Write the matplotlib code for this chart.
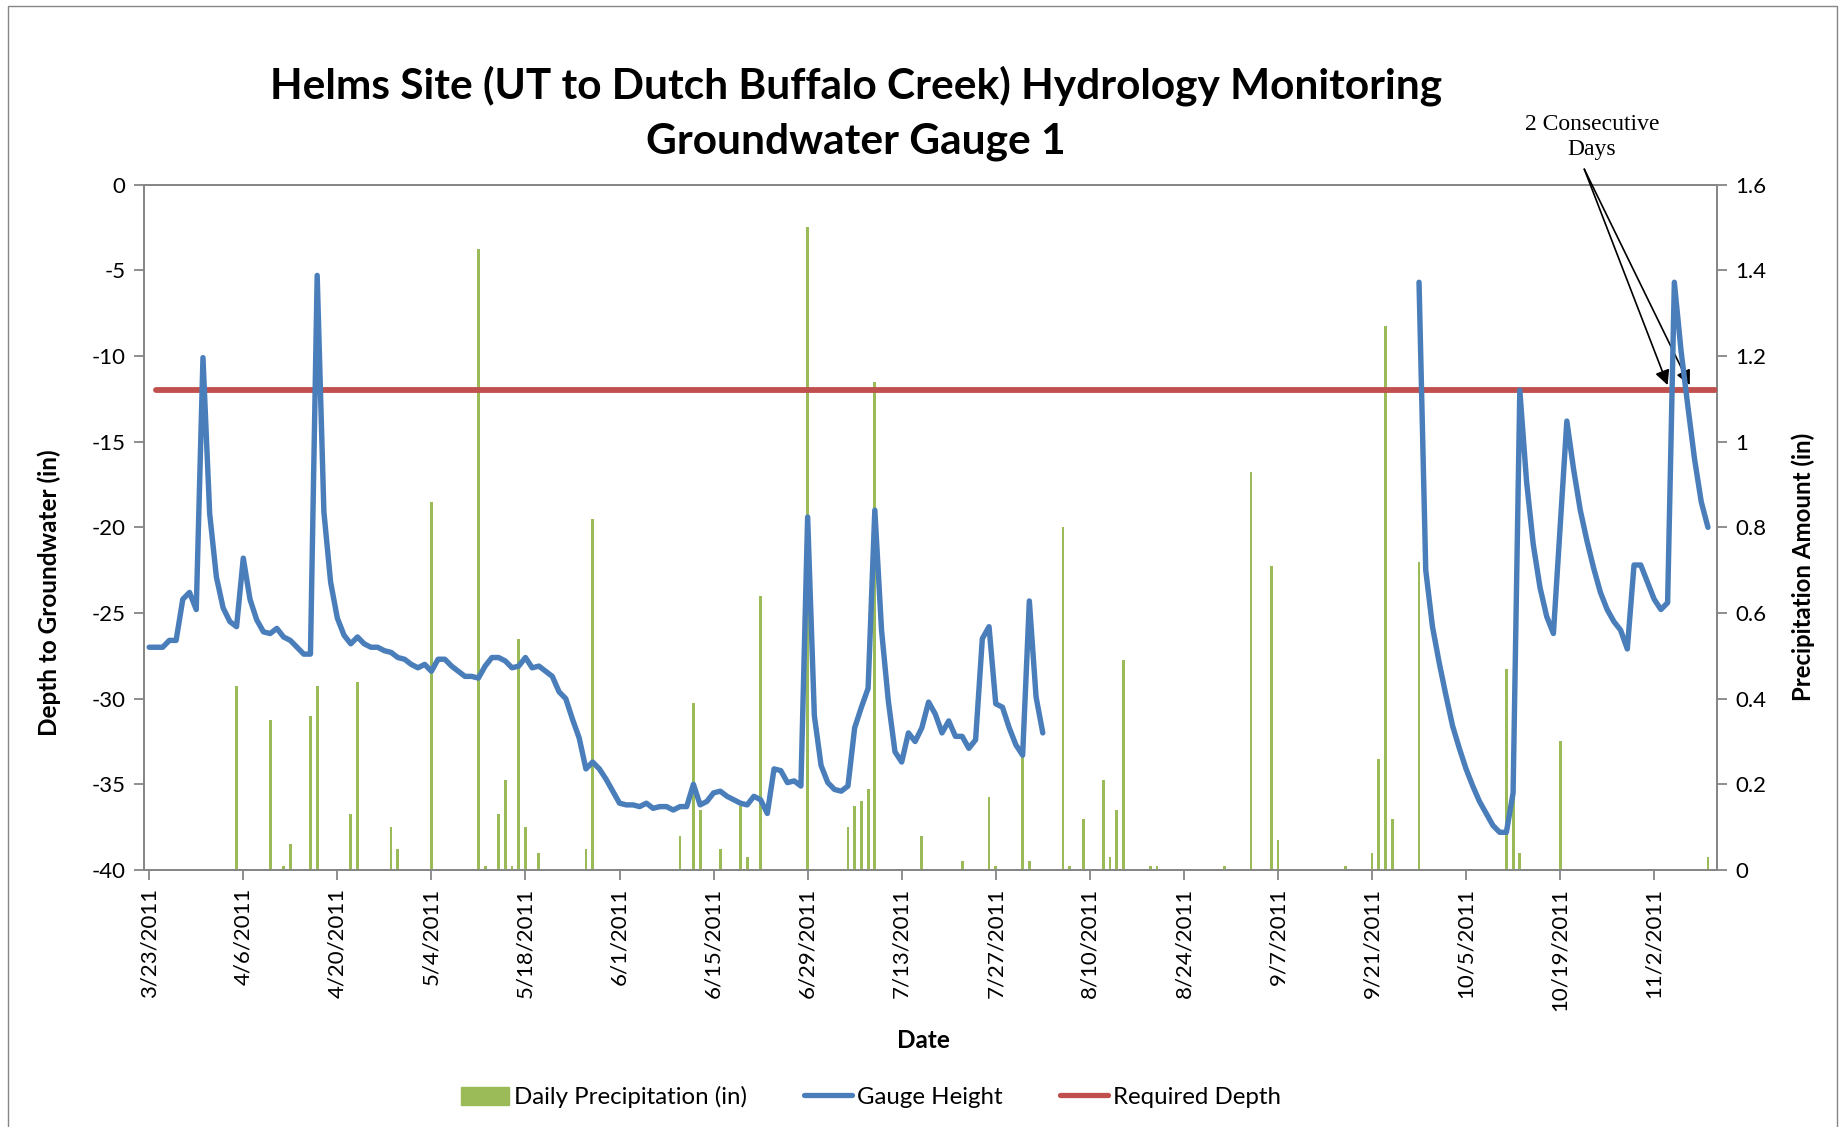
import matplotlib.pyplot as plt
import matplotlib.patches as mpatches
import matplotlib.dates as mdates
from matplotlib.lines import Line2D
import numpy as np
import pandas as pd

plt.rcParams['font.family'] = ['Lato', 'DejaVu Sans']
plt.rcParams['axes.unicode_minus'] = False

# daily gauge readings (in), first run 3/23 - 8/3, second run 9/28 - 11/10
gauge_start_1 = '2011-03-23'
gauge_depth_1 = [
    -27.0, -27.0, -27.0, -26.6, -26.6, -24.2, -23.8, -24.8, -10.1, -19.2,
    -22.9, -24.7, -25.5, -25.8, -21.8, -24.2, -25.4, -26.1, -26.2, -25.9,
    -26.4, -26.6, -27.0, -27.4, -27.4, -5.3, -19.1, -23.2, -25.3, -26.3,
    -26.8, -26.4, -26.8, -27.0, -27.0, -27.2, -27.3, -27.6, -27.7, -28.0,
    -28.2, -28.0, -28.4, -27.7, -27.7, -28.1, -28.4, -28.7, -28.7, -28.8,
    -28.1, -27.6, -27.6, -27.8, -28.2, -28.1, -27.6, -28.2, -28.1, -28.4,
    -28.7, -29.6, -30.0, -31.2, -32.3, -34.1, -33.7, -34.1, -34.7, -35.4,
    -36.1, -36.2, -36.2, -36.3, -36.1, -36.4, -36.3, -36.3, -36.5, -36.3,
    -36.3, -35.0, -36.2, -36.0, -35.5, -35.4, -35.7, -35.9, -36.1, -36.2,
    -35.7, -35.9, -36.7, -34.1, -34.2, -34.9, -34.8, -35.1, -19.4, -31.0,
    -33.9, -34.9, -35.3, -35.4, -35.1, -31.7, -30.5, -29.4, -19.0, -26.0,
    -30.1, -33.1, -33.7, -32.0, -32.5, -31.7, -30.2, -30.9, -32.0, -31.3,
    -32.2, -32.2, -32.9, -32.4, -26.5, -25.8, -30.3, -30.5, -31.7, -32.7,
    -33.3, -24.3, -29.9, -32.0,
]
gauge_start_2 = '2011-09-28'
gauge_depth_2 = [
    -5.7, -22.5, -25.8, -27.9, -29.8, -31.6, -32.9, -34.1, -35.1, -36.0,
    -36.7, -37.4, -37.8, -37.8, -35.5, -12.0, -17.3, -21.0, -23.5, -25.2,
    -26.2, -20.0, -13.8, -16.6, -19.0, -20.8, -22.4, -23.8, -24.8, -25.5,
    -26.0, -27.1, -22.2, -22.2, -23.2, -24.2, -24.8, -24.4, -5.7, -9.7,
    -12.9, -16.0, -18.5, -20.0,
]

required_dates = ['2011-03-24', '2011-11-11']
required_depth = [-12, -12]

precip_dates = [
    '2011-04-05', '2011-04-10', '2011-04-12', '2011-04-13', '2011-04-16',
    '2011-04-17', '2011-04-22', '2011-04-23', '2011-04-28', '2011-04-29',
    '2011-05-04', '2011-05-11', '2011-05-12', '2011-05-14', '2011-05-15',
    '2011-05-16', '2011-05-17', '2011-05-18', '2011-05-20', '2011-05-27',
    '2011-05-28', '2011-06-10', '2011-06-12', '2011-06-13', '2011-06-16',
    '2011-06-19', '2011-06-20', '2011-06-22', '2011-06-29', '2011-07-05',
    '2011-07-06', '2011-07-07', '2011-07-08', '2011-07-09', '2011-07-16',
    '2011-07-22', '2011-07-26', '2011-07-27', '2011-07-31', '2011-08-01',
    '2011-08-06', '2011-08-07', '2011-08-09', '2011-08-12', '2011-08-13',
    '2011-08-14', '2011-08-15', '2011-08-19', '2011-08-20', '2011-08-30',
    '2011-09-03', '2011-09-06', '2011-09-07', '2011-09-17', '2011-09-21',
    '2011-09-22', '2011-09-23', '2011-09-24', '2011-09-28', '2011-10-11',
    '2011-10-12', '2011-10-13', '2011-10-19', '2011-11-10',
]
precip_in = [
    0.43, 0.35, 0.01, 0.06, 0.36, 0.43, 0.13, 0.44, 0.10, 0.05,
    0.86, 1.45, 0.01, 0.13, 0.21, 0.01, 0.54, 0.10, 0.04, 0.05,
    0.82, 0.08, 0.39, 0.14, 0.05, 0.15, 0.03, 0.64, 1.50, 0.10,
    0.15, 0.16, 0.19, 1.14, 0.08, 0.02, 0.17, 0.01, 0.27, 0.02,
    0.80, 0.01, 0.12, 0.21, 0.03, 0.14, 0.49, 0.01, 0.01, 0.01,
    0.93, 0.71, 0.07, 0.01, 0.04, 0.26, 1.27, 0.12, 0.72, 0.47,
    0.17, 0.04, 0.30, 0.03,
]

tick_dates = pd.date_range('2011-03-23', '2011-11-02', freq='14D')
depth_ticks = list(range(-40, 1, 5))
precip_ticks = [0, 0.2, 0.4, 0.6, 0.8, 1.0, 1.2, 1.4, 1.6]

green = '#9BBB59'
blue = '#4A7EBB'
red = '#C0504D'
grey = '#868686'

x1 = mdates.date2num(pd.date_range(gauge_start_1, periods=len(gauge_depth_1)))
x2 = mdates.date2num(pd.date_range(gauge_start_2, periods=len(gauge_depth_2)))
xr = mdates.date2num(pd.to_datetime(required_dates))
xp = mdates.date2num(pd.to_datetime(precip_dates))
x0 = mdates.date2num(pd.Timestamp('2011-03-23'))

fig = plt.figure(figsize=(18.44, 11.27), dpi=100)
ax = fig.add_axes([143.5 / 1844, 1 - 870 / 1127, (1717 - 143.5) / 1844, (870 - 184.6) / 1127])
ax2 = ax.twinx()
ax.set_zorder(ax2.get_zorder() + 1)
ax.patch.set_visible(False)

ax2.bar(xp, precip_in, width=0.42, color=green, zorder=2)
ax.plot(xr, required_depth, color=red, lw=4.2, solid_capstyle='round', zorder=3)
ax.plot(x1, gauge_depth_1, color=blue, lw=3.9, solid_capstyle='round',
        solid_joinstyle='round', zorder=4)
ax.plot(x2, gauge_depth_2, color=blue, lw=3.9, solid_capstyle='round',
        solid_joinstyle='round', zorder=4)

ax.set_xlim(x0 - 0.85, x0 + 233.35)
ax.set_ylim(-40, 0)
ax2.set_ylim(0, 1.6)

ax.set_yticks(depth_ticks)
ax.set_yticklabels([str(t) for t in depth_ticks])
ax2.set_yticks(precip_ticks)
ax2.set_yticklabels(['{:g}'.format(t) for t in precip_ticks])
ax.set_xticks(mdates.date2num(tick_dates))
ax.set_xticklabels([f'{d.month}/{d.day}/{d.year}' for d in tick_dates], rotation=90)

for a in (ax, ax2):
    for s in a.spines.values():
        s.set_color(grey)
        s.set_linewidth(1.3)
    a.tick_params(direction='out', length=7, width=1.3, color=grey,
                  labelsize=16, labelcolor='black')
ax.tick_params(axis='y', pad=6)
ax2.tick_params(axis='y', pad=6)
ax.tick_params(axis='x', pad=6)

fig.text(856 / 1844, 1 - 86 / 1127,
         'Helms Site (UT to Dutch Buffalo Creek) Hydrology Monitoring',
         ha='center', va='center', fontsize=30.5, fontweight='bold')
fig.text(856 / 1844, 1 - 142 / 1127, 'Groundwater Gauge 1',
         ha='center', va='center', fontsize=30.5, fontweight='bold')

fig.text(49 / 1844, 1 - 593 / 1127, 'Depth to Groundwater (in)', rotation=90,
         ha='center', va='center', fontsize=17.5, fontweight='bold')
fig.text(1803 / 1844, 1 - 567 / 1127, 'Precipitation Amount (in)', rotation=90,
         ha='center', va='center', fontsize=17.3, fontweight='bold')
fig.text(923 / 1844, 1 - 1040 / 1127, 'Date', ha='center', va='center',
         fontsize=17.5, fontweight='bold')

# annotation for the two days above the required depth
fig.text(1592 / 1844, 1 - 137 / 1127, '2 Consecutive\nDays', ha='center', va='center',
         fontsize=17, family='Liberation Serif', linespacing=1.3)
for tip in (x0 + 226.0, x0 + 229.3):
    ax.annotate('', xy=(tip, -11.7), xytext=(x0 + 213.6, 0.9), annotation_clip=False,
                arrowprops=dict(arrowstyle='-|>', color='black', lw=1.2,
                                mutation_scale=22, shrinkA=0, shrinkB=0))

handles = [mpatches.Patch(color=green),
           Line2D([], [], color=blue, lw=3.8, solid_capstyle='round'),
           Line2D([], [], color=red, lw=3.8, solid_capstyle='round')]
fig.legend(handles, ['Daily Precipitation (in)', 'Gauge Height', 'Required Depth'],
           loc='center', bbox_to_anchor=(871 / 1844, 1 - 1097 / 1127), ncol=3,
           frameon=False, fontsize=17.3, handlelength=2.0, handleheight=0.8,
           handletextpad=0.2, columnspacing=2.4)

fig.patches.append(mpatches.Rectangle((8 / 1844, -0.01), (1837 - 8) / 1844, 1.01 - 6 / 1127,
                                      transform=fig.transFigure, fill=False,
                                      edgecolor=grey, lw=1.0))

fig.savefig('out.png', dpi=100)
